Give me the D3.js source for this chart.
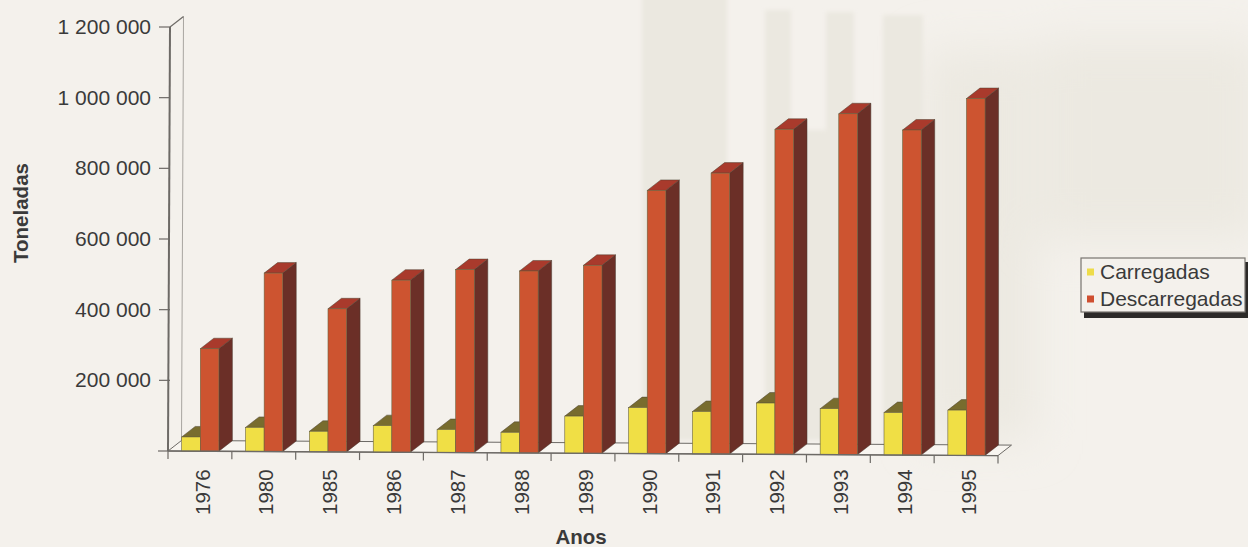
<!DOCTYPE html>
<html><head><meta charset="utf-8">
<script src="https://cdn.jsdelivr.net/npm/d3@7"></script>
<style>html,body{margin:0;padding:0;background:#f4f1ec}svg{display:block}text{font-family:"Liberation Sans",Arial,sans-serif;fill:#3a3a3a}</style>
</head><body><svg id="c" width="1248" height="547"></svg>
<script>
const years=["1976","1980","1985","1986","1987","1988","1989","1990","1991","1992","1993","1994","1995"];
const carregadas=[40000,68000,58000,75000,65000,58000,105000,130000,120000,145000,130000,120000,128000];
const descarregadas=[290000,505000,405000,487000,518000,515000,532000,745000,795000,920000,965000,920000,1010000];
const yTicks=[200000,400000,600000,800000,1000000,1200000];
const seriesNames=["Carregadas","Descarregadas"];
const svg=d3.select("#c");
const W=1248,H=547;
svg.append("rect").attr("width",W).attr("height",H).attr("fill","#f4f1ec");
// show-through paper texture
const defs=svg.append("defs");
defs.append("filter").attr("id","soft").append("feGaussianBlur").attr("stdDeviation",2);
const big=defs.append("filter").attr("id","softer").attr("filterUnits","userSpaceOnUse").attr("x",800).attr("y",-60).attr("width",560).attr("height",600);
big.append("feGaussianBlur").attr("stdDeviation",22);
const paper2=svg.append("g").attr("filter","url(#softer)").attr("fill","#ecE9e1");
[[925,50,110,390],[1040,40,220,200]].forEach(r=>
  paper2.append("rect").attr("x",r[0]).attr("y",r[1]).attr("width",r[2]).attr("height",r[3]));
const paper=svg.append("g").attr("filter","url(#soft)").attr("fill","#ebe8e0");
[[642,-5,85,445],[765,10,26,430],[826,12,28,430],[883,15,40,425],[791,130,35,310]].forEach(r=>
  paper.append("rect").attr("x",r[0]).attr("y",r[1]).attr("width",r[2]).attr("height",r[3]));
const dx=13.5,dy=-10.5;
const x=d3.scaleBand().domain(years).range([168,998]).paddingInner(0).paddingOuter(0);
const bw=x.bandwidth();
const skew=d3.scaleLinear().domain([168,998]).range([0,4.6]);
const y=d3.scaleLinear().domain([0,1200000]).range([451,27]);
const base=px=>skew(px);
const pts=a=>a.map(p=>p.join(",")).join(" ");
const axisC="#6d6a66";
const x0=168,x1=998,y0=y(0);
svg.append("polygon").attr("points",pts([[x0,y0],[x1,y0+4.6],[x1+dx,y0+4.6+dy],[x0+dx,y0+dy]])).attr("fill","#f8f5f0").attr("stroke",axisC).attr("stroke-width",1);
svg.append("line").attr("x1",x0+dx).attr("x2",x0+dx+2).attr("y1",y0+dy).attr("y2",y(1200000)+dy).attr("stroke","#a8a5a0").attr("stroke-width",1);
svg.append("line").attr("x1",x0+2).attr("x2",x0+2+dx).attr("y1",y(1200000)).attr("y2",y(1200000)+dy).attr("stroke",axisC).attr("stroke-width",1.2);
svg.append("line").attr("x1",x0).attr("x2",x0+2).attr("y1",y0).attr("y2",y(1200000)).attr("stroke",axisC).attr("stroke-width",2);
const gy=svg.append("g");
yTicks.forEach(v=>{
  gy.append("line").attr("x1",159).attr("x2",170).attr("y1",y(v)).attr("y2",y(v)).attr("stroke",axisC).attr("stroke-width",1.2);
  gy.append("text").attr("x",151).attr("y",y(v)-0.5).attr("dy","0.35em").attr("text-anchor","end").attr("font-size",21)
    .text(d3.format(",")(v).replace(/,/g," "));
});
gy.append("line").attr("x1",158).attr("x2",x0).attr("y1",y0).attr("y2",y0).attr("stroke",axisC).attr("stroke-width",1.2);
function bar(g,left,w,v,front,side,top){
  const b=y0+base(left), h=y0-y(v), t=b-h;
  g.append("polygon").attr("points",pts([[left+w,b],[left+w+dx,b+dy],[left+w+dx,t+dy],[left+w,t]])).attr("fill",side).attr("stroke","#4a3a30").attr("stroke-width",.5);
  g.append("polygon").attr("points",pts([[left,t],[left+dx,t+dy],[left+w+dx,t+dy],[left+w,t]])).attr("fill",top).attr("stroke","#4a4030").attr("stroke-width",.5);
  g.append("rect").attr("x",left).attr("y",t).attr("width",w).attr("height",h).attr("fill",front).attr("stroke","#6b6440").attr("stroke-width",.6);
}
const barW=18.6, off=13.7;
years.forEach((yr,i)=>{
  const g=svg.append("g");
  const l=x(yr)+off;
  bar(g,l,barW,carregadas[i],"#f0df45","#7a6a2a","#786c2e");
  bar(g,l+barW,barW,descarregadas[i],"#cd5430","#6b2f27","#a93a2c");
});
years.concat(["end"]).forEach((t,i)=>{
  const px=i<years.length?x(t):x1;
  const by=y0+base(px);
  svg.append("line").attr("x1",px).attr("x2",px).attr("y1",by).attr("y2",by+8).attr("stroke",axisC).attr("stroke-width",1.2);
});
svg.append("line").attr("x1",x0).attr("x2",x1).attr("y1",y0).attr("y2",y0+4.6).attr("stroke",axisC).attr("stroke-width",1.4);
years.forEach(yr=>{
  const cx=x(yr)+bw/2+2.5;
  svg.append("text").attr("transform",`translate(${cx},515) rotate(-90)`).attr("dy","0.35em").attr("font-size",20.5).text(yr);
});
svg.append("text").attr("x",581).attr("y",544).attr("text-anchor","middle").attr("font-size",20.5).attr("font-weight","bold").text("Anos");
svg.append("text").attr("transform","translate(21,213) rotate(-90)").attr("dy","0.35em").attr("text-anchor","middle").attr("font-size",20.5).attr("font-weight","bold").text("Toneladas");
const lg=svg.append("g");
lg.append("rect").attr("x",1084).attr("y",262).attr("width",166).attr("height",56).attr("fill","#2c2a28");
lg.append("rect").attr("x",1081).attr("y",258).attr("width",164).attr("height",54).attr("fill","#f4f1ec").attr("stroke","#77746f").attr("stroke-width",1.2);
const colors=["#eedc4a","#cf4f30"];
seriesNames.forEach((s,i)=>{
  const cy=272+i*27;
  lg.append("rect").attr("x",1087).attr("y",cy-3.5).attr("width",7).attr("height",7).attr("fill",colors[i]);
  lg.append("text").attr("x",1100).attr("y",cy).attr("dy","0.35em").attr("font-size",21).text(s);
});
</script></body></html>
